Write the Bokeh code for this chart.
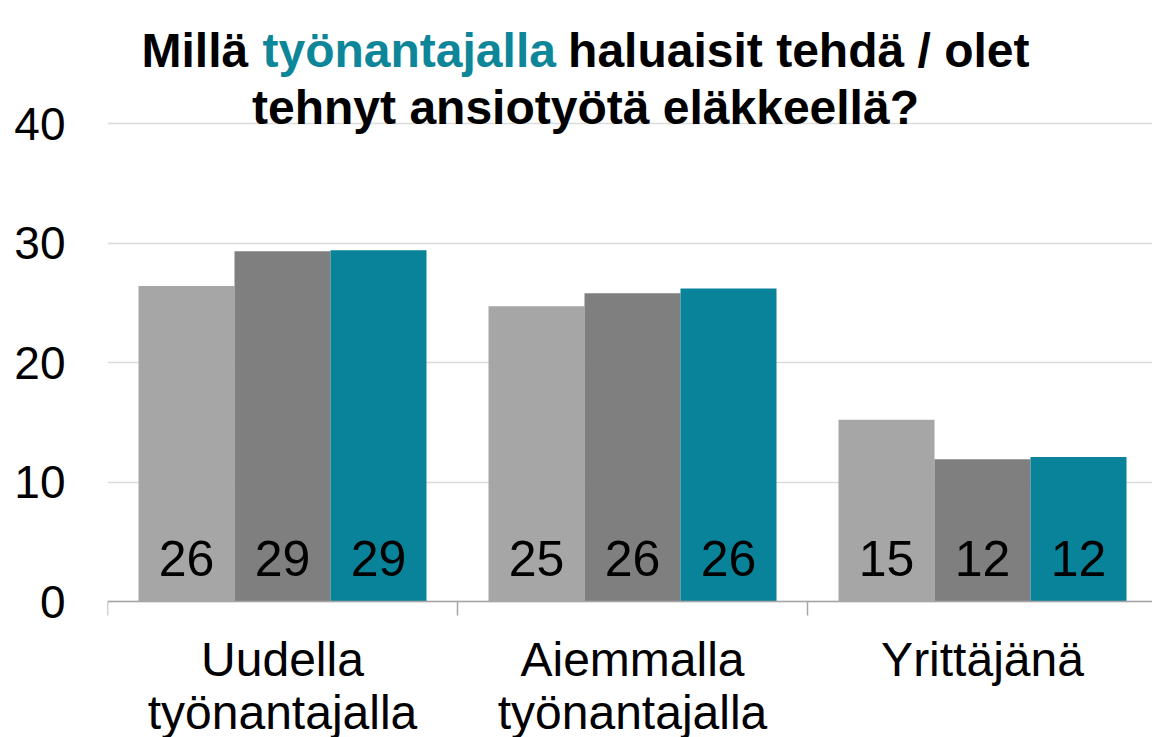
from bokeh.plotting import figure
from bokeh.models import FixedTicker, Label, Range1d, ColumnDataSource
from bokeh.core.properties import value
from bokeh.embed import file_html
from bokeh.resources import INLINE

# ---- data ----
categories = ["Uudella\ntyönantajalla", "Aiemmalla\ntyönantajalla", "Yrittäjänä"]
series_names = ["Sarja 1", "Sarja 2", "Sarja 3"]
values_1 = [26.4, 24.7, 15.2]
values_2 = [29.3, 25.8, 11.9]
values_3 = [29.4, 26.2, 12.1]
series_colors = ["#A6A6A6", "#7F7F7F", "#09839A"]
y_ticks = [0, 10, 20, 30, 40]
title_part_1 = "Millä"
title_part_2 = "työnantajalla"
title_part_3 = "haluaisit tehdä / olet"
title_line_2 = "tehnyt ansiotyötä eläkkeellä?"
title_teal = "#0E8699"

FONT = "Liberation Sans"

# ---- layout (page coordinates of the reference) ----
W, H = 1152, 737
FRAME_LEFT = 107          # page x of category axis start
AXIS_Y = 601              # page y of value 0
PX_PER_UNIT = 11.95       # pixels per value unit
PX_PER_CAT = 350.0        # pixels per category

x_end = (W - FRAME_LEFT) / PX_PER_CAT
y_end = AXIS_Y / PX_PER_UNIT
y_start = -(H - AXIS_Y) / PX_PER_UNIT

p = figure(width=W, height=H, x_range=Range1d(0, x_end), y_range=Range1d(y_start, y_end),
           output_backend="svg", toolbar_location=None,
           min_border_left=FRAME_LEFT, min_border_right=0,
           min_border_top=0, min_border_bottom=0,
           outline_line_color=None, background_fill_color="white",
           border_fill_color="white")

bar_w = 96.0 / PX_PER_CAT
offsets = [-bar_w, 0.0, bar_w]
all_series = [values_1, values_2, values_3]
for vals, off, col, name in zip(all_series, offsets, series_colors, series_names):
    xs = [i + 0.5 + off for i in range(len(categories))]
    src = ColumnDataSource(dict(x=xs, top=vals, lab=[str(int(round(v))) for v in vals],
                                y0=[0] * len(vals)))
    p.vbar(x="x", top="top", bottom=0, width=bar_w, source=src,
           fill_color=col, line_color=None)
    p.text(x="x", y="y0", text="lab", source=src, y_offset=-43,
           text_align="center", text_baseline="alphabetic",
           text_font=value(FONT), text_font_size="50px", text_color="black")

# y axis
p.yaxis.ticker = FixedTicker(ticks=y_ticks)
p.yaxis.axis_line_color = None
p.yaxis.major_tick_line_color = None
p.yaxis.minor_tick_line_color = None
p.yaxis.major_tick_out = 0
p.yaxis.major_tick_in = 0
p.yaxis.minor_tick_out = 0
p.yaxis.minor_tick_in = 0
p.yaxis.major_label_standoff = 42
p.yaxis.major_label_text_font = FONT
p.yaxis.major_label_text_font_size = "46px"
p.yaxis.major_label_text_color = "black"

p.ygrid.ticker = FixedTicker(ticks=y_ticks)
p.ygrid.grid_line_color = "#DCDCDC"
p.ygrid.grid_line_width = 1.5
p.xgrid.grid_line_color = None

# x axis (fixed at value 0 inside the frame)
centers = [i + 0.5 for i in range(len(categories))]
bounds = [float(i) for i in range(len(categories) + 1)]
p.xaxis.fixed_location = 0
p.xaxis.ticker = FixedTicker(ticks=centers, minor_ticks=bounds)
p.xaxis.major_label_overrides = {c: lab for c, lab in zip(centers, categories)}
p.xaxis.axis_line_color = "#A6A6A6"
p.xaxis.axis_line_width = 1.5
p.xaxis.major_tick_out = 0
p.xaxis.major_tick_in = 0
p.xaxis.major_tick_line_color = None
p.xaxis.minor_tick_in = 0
p.xaxis.minor_tick_out = 14
p.xaxis.minor_tick_line_color = "#A6A6A6"
p.xaxis.minor_tick_line_width = 1.5
p.xaxis.major_label_standoff = 17
p.xaxis.major_label_text_font = FONT
p.xaxis.major_label_text_font_size = "48px"
p.xaxis.major_label_text_line_height = 1.0
p.xaxis.major_label_text_color = "black"

# title as labels inside the (tall) frame
def px2x(px):
    return (px - FRAME_LEFT) / PX_PER_CAT

def py2y(py):
    return (AXIS_Y - py) / PX_PER_UNIT

common = dict(text_font=FONT, text_font_style="bold",
              text_font_size="48px", text_baseline="alphabetic",
              x_units="data", y_units="data")
y1 = py2y(50)
y2 = py2y(107)
p.add_layout(Label(x=px2x(141), y=y1, text=title_part_1, text_align="left",
                   text_color="black", **common))
p.add_layout(Label(x=px2x(262), y=y1, text=title_part_2, text_align="left",
                   text_color=title_teal, **common))
p.add_layout(Label(x=px2x(1029), y=y1, text=title_part_3, text_align="right",
                   text_color="black", **common))
p.add_layout(Label(x=px2x(585), y=y2, text=title_line_2, text_align="center",
                   text_color="black", **common))

open("out.html", "w").write(file_html(p, INLINE))
